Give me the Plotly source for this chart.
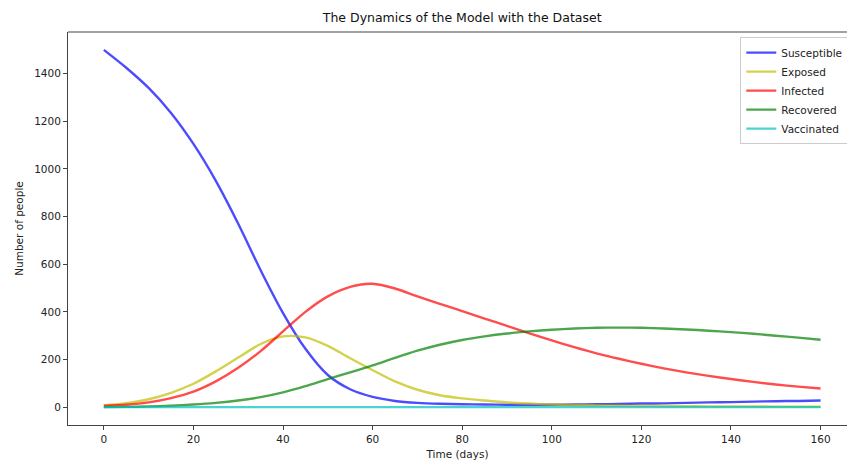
import plotly.graph_objects as go

days = list(range(0, 161, 5))

susceptible = [1500, 1425, 1340, 1235, 1105, 950, 770, 575, 395, 245, 135, 75, 43, 26, 18, 14,
               12, 11, 10, 10, 10, 11, 12, 13, 15, 16, 18, 20, 21, 23, 25, 26, 28]
exposed = [8, 17, 33, 60, 98, 150, 208, 265, 297, 293, 257, 205, 155, 108, 73, 50,
           37, 28, 20, 15, 11, 9, 7, 6, 5, 4, 4, 3, 3, 3, 2, 2, 2]
infected = [5, 10, 20, 38, 65, 108, 165, 235, 318, 400, 465, 505, 518, 498, 465, 434,
            403, 372, 341, 310, 280, 252, 226, 203, 182, 163, 146, 131, 118, 106, 95, 86, 78]
recovered = [0, 1, 3, 6, 11, 18, 28, 42, 62, 88, 118, 146, 175, 207, 237, 262,
             282, 297, 309, 318, 325, 330, 333, 334, 333, 330, 326, 321, 315, 308, 300, 292, 283]
vaccinated = [0] * len(days)

series = [
    ("Susceptible", susceptible, "rgba(0,0,255,0.7)"),
    ("Exposed", exposed, "rgba(191,191,0,0.7)"),
    ("Infected", infected, "rgba(255,0,0,0.7)"),
    ("Recovered", recovered, "rgba(0,128,0,0.7)"),
    ("Vaccinated", vaccinated, "rgba(0,191,191,0.7)"),
]

fig = go.Figure()
for name, vals, color in series:
    fig.add_trace(go.Scatter(x=days, y=vals, mode="lines", name=name,
                             line=dict(color=color, width=2.4, shape="spline", smoothing=0.8)))

font = "DejaVu Sans, sans-serif"
fig.update_layout(
    width=847, height=463,
    margin=dict(l=68, r=0, t=32, b=38, autoexpand=False),
    paper_bgcolor="white", plot_bgcolor="white",
    font=dict(family=font, size=10.5, color="#222"),
    title=dict(text="The Dynamics of the Model with the Dataset", font=dict(size=12.5, color="#111"),
               x=0.506, xref="paper", xanchor="center", y=1 - 18 / 463, yref="container", yanchor="middle"),
    legend=dict(x=0.863, y=0.987, xanchor="left", yanchor="top",
                bgcolor="rgba(255,255,255,0.8)", bordercolor="#cccccc", borderwidth=1,
                font=dict(size=10.5, color="#222"), tracegroupgap=0),
    showlegend=True,
)
fig.update_xaxes(range=[-8, 165.9], tickvals=list(range(0, 161, 20)), showgrid=False, zeroline=False,
                 showline=True, linecolor="#444", linewidth=1, mirror=False,
                 ticks="outside", ticklen=4, tickcolor="#444",
                 title=dict(text="Time (days)", standoff=7, font=dict(size=10.5)))
fig.update_yaxes(range=[-75, 1575], tickvals=list(range(0, 1401, 200)), showgrid=False, zeroline=False,
                 showline=True, linecolor="#444", linewidth=1, mirror=False,
                 ticks="outside", ticklen=4, tickcolor="#444",
                 title=dict(text="Number of people", standoff=8, font=dict(size=10.5)))
# top spine
fig.add_shape(type="line", xref="paper", yref="paper", x0=0, x1=1, y0=1, y1=1,
              line=dict(color="#444", width=1))

fig.write_html("out.html", config={"displayModeBar": False},
               post_script="document.body.style.margin='0';document.body.style.overflow='hidden';")
